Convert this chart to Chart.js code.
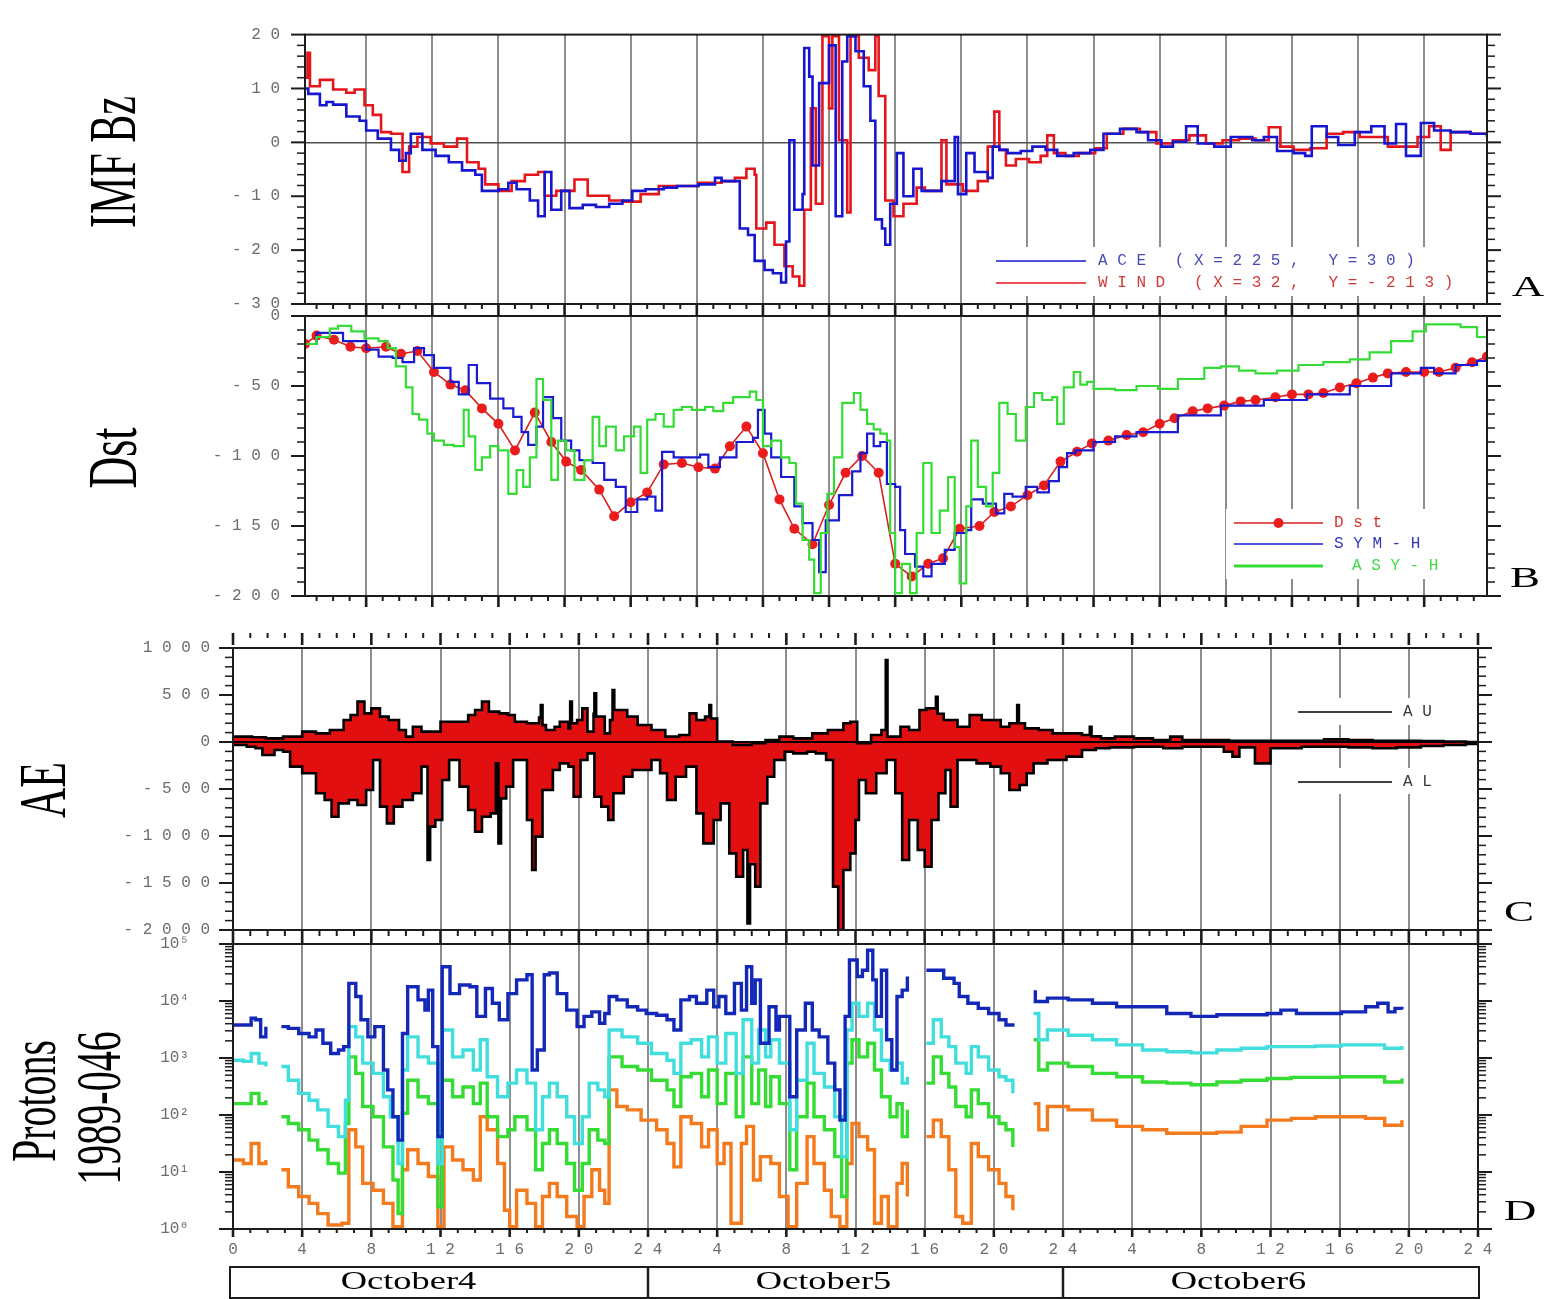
<!DOCTYPE html>
<html>
<head>
<meta charset="utf-8">
<title>IMF Bz, Dst, AE and protons, October 4-6</title>
<script src="https://cdn.jsdelivr.net/npm/chart.js@4.4.1/dist/chart.umd.min.js"></script>
<style>
  html, body { margin: 0; padding: 0; background: #fff; }
  #wrap { position: relative; width: 1548px; height: 1299px; overflow: hidden; background: #fff; }
  #wrap canvas { position: absolute; left: 0; top: 0; }
</style>
</head>
<body>
<div id="wrap">
  <canvas id="panelA" width="1548" height="1299"></canvas>
  <canvas id="panelB" width="1548" height="1299"></canvas>
  <canvas id="panelC" width="1548" height="1299"></canvas>
  <canvas id="panelD" width="1548" height="1299"></canvas>
</div>
<script>
// ---- axis ticks and labels ----
const hourTicks = [0, 4, 8, 12, 16, 20, 24, 28, 32, 36, 40, 44, 48, 52, 56, 60, 64, 68, 72];
const hourLabels = ['0', '4', '8', '12', '16', '20', '24', '4', '8', '12', '16', '20', '24', '4', '8', '12', '16', '20', '24'];
const dayLabels = ['October4', 'October5', 'October6'];

const bzTicks = [-30, -20, -10, 0, 10, 20];
const bzTickLabels = ['-30', '-20', '-10', '0', '10', '20'];
const dstTicks = [-200, -150, -100, -50, 0];
const dstTickLabels = ['-200', '-150', '-100', '-50', '0'];
const aeTicks = [-2000, -1500, -1000, -500, 0, 500, 1000];
const aeTickLabels = ['-2000', '-1500', '-1000', '-500', '0', '500', '1000'];
const protonTicks = [1, 10, 100, 1000, 10000, 100000];
const protonTickLabels = ['10⁰', '10¹', '10²', '10³', '10⁴', '10⁵'];

// ---- panel A: IMF Bz (nT), [hour, value] ----
const aceBz = [[0.3,10],[0.5,9],[1.2,6.9],[1.6,7.5],[2.0,7],[2.8,4.8],[3.6,4],[4.0,2.2],[4.7,0.7],[5.5,-1.4],[6.0,-3.4],[6.4,-2],[6.7,1.6],[7.4,-1.4],[8.2,-2.5],[9.0,-3.7],[9.8,-5.2],[10.6,-6],[11.0,-9],[12.0,-8.7],[12.6,-7.5],[13.1,-8.7],[13.9,-10.8],[14.4,-13.7],[14.8,-5.5],[15.2,-12.5],[15.8,-9],[16.3,-12.2],[17.1,-11.6],[17.9,-12],[18.7,-11.4],[19.5,-10.8],[20.1,-9],[20.9,-8.7],[22.0,-8.4],[22.8,-8.1],[24.1,-7.8],[25.1,-6.6],[25.5,-7.2],[26.4,-7.2],[26.6,-16],[27.1,-17.2],[27.5,-22],[28.1,-23.7],[28.6,-24.3],[29.1,-26],[29.4,-18.4],[29.6,0.4],[29.9,-12.5],[30.4,-9.6],[30.5,17.5],[30.8,12.2],[31.0,-4.3],[31.4,11],[32.0,18],[32.4,-13.7],[32.8,15],[33.1,19.7],[33.6,16.9],[34.1,10.4],[34.5,4],[34.8,-14.3],[35.2,-16],[35.4,-19],[35.7,-11.4],[36.1,-2],[36.5,-10],[37.1,-4.9],[37.6,-9],[38.3,-9],[38.8,-7.2],[39.6,1],[39.8,-9.6],[40.3,-2],[40.8,-5.5],[41.6,-6.6],[41.9,-0.8],[42.3,-1.4],[42.8,-2],[43.6,-1.6],[44.3,-0.8],[45.1,-1.4],[45.8,-2.5],[46.8,-2],[47.8,-1.4],[48.6,1.6],[49.6,2.5],[50.6,1.9],[51.3,0.4],[52.1,-0.8],[52.8,0.1],[53.6,3],[54.3,-0.2],[55.3,-0.8],[56.3,1],[57.6,0.4],[58.3,1],[59.1,-1.6],[60.1,-2],[60.8,-2.5],[61.2,3],[62.1,1],[62.8,-0.5],[63.8,1.9],[64.8,3],[65.6,-0.2],[66.3,3.4],[66.9,-2.5],[67.8,3.6],[68.6,2.2],[69.6,1.9],[70.8,1.6],[71.8,1]];
const windBz = [[0.3,12],[0.45,16.6],[0.6,10.4],[1.2,11.6],[2.0,9.8],[2.8,9.2],[3.3,9.8],[3.9,6.9],[4.4,5.1],[4.9,1.9],[5.5,1.6],[6.2,-5.5],[6.6,-0.8],[7.1,1],[7.9,-0.2],[8.7,-0.8],[9.5,0.7],[10.1,-3.7],[10.8,-4.9],[11.2,-7.8],[12.0,-9],[12.8,-7.2],[13.6,-6],[14.4,-5.5],[14.8,-9.9],[15.5,-9],[16.6,-6.9],[17.4,-9.9],[18.7,-10.8],[19.5,-11],[20.6,-9.6],[21.7,-8.1],[22.8,-8.1],[24.1,-7.5],[25.5,-7.2],[26.3,-6.6],[27.0,-4.9],[27.5,-6],[27.6,-16],[28.2,-14.9],[28.7,-19],[29.3,-23],[29.8,-24.9],[30.2,-26.6],[30.5,-12.5],[30.9,6.3],[31.2,-11.4],[31.6,19.7],[32.0,6.3],[32.2,19.7],[32.6,0.4],[33.1,-13],[33.3,19.7],[33.8,15.7],[34.4,13.4],[34.8,19.7],[35.0,8.6],[35.4,-10.8],[35.9,-13.7],[36.5,-11.4],[37.3,-8.4],[37.8,-9],[38.8,0.4],[39.1,-7.8],[40.1,-9],[41.0,-7.2],[41.6,-0.8],[42.0,5.7],[42.3,-1.4],[42.7,-4.3],[43.3,-3.1],[44.1,-3.7],[44.8,-2.5],[45.2,1.3],[45.6,-2],[46.3,-2.5],[47.1,-2],[48.1,-1.1],[48.8,1.6],[49.8,2.5],[50.8,1.9],[51.8,-0.2],[52.8,0.4],[53.8,1.3],[54.8,-0.2],[55.8,0.4],[56.8,0.7],[57.8,0.4],[58.6,2.8],[59.3,-0.8],[60.1,-1.4],[61.1,-1.1],[62.1,1.6],[63.1,1.9],[64.1,1],[65.1,1],[65.8,-0.8],[66.6,-0.8],[67.6,1],[68.3,3],[69.0,-1.4],[69.6,1.9],[70.8,1.6],[71.8,1.3]];

// ---- panel B: Dst, SYM-H, ASY-H (nT) ----
const dstHourly = [[0.3,-20],[1.0,-14],[2.05,-17],[3.05,-22],[4.0,-23],[5.2,-22],[6.1,-27],[7.1,-25],[8.1,-40],[9.1,-49],[10.0,-53],[11.0,-66],[12.0,-77],[13.0,-96],[14.2,-69],[15.2,-90],[16.1,-104],[17.0,-110],[18.1,-124],[19.0,-143],[20.0,-133],[21.0,-126],[22.0,-106],[23.1,-105],[24.1,-108],[25.1,-109],[26.0,-93],[27.0,-79],[28.0,-98],[29.0,-131],[29.9,-152],[31.0,-163],[32.0,-135],[33.0,-112],[34.0,-100],[35.0,-112],[36.0,-177],[37.0,-186],[38.0,-177],[38.9,-173],[39.9,-152],[41.1,-150],[42.0,-140],[43.0,-136],[44.0,-128],[45.0,-121],[46.0,-104],[47.0,-97],[47.9,-91],[48.9,-89],[50.0,-85],[51.0,-83],[52.0,-77],[52.9,-73],[54.0,-68],[54.9,-66],[55.9,-64],[56.9,-61],[57.8,-60],[59.0,-58],[60.0,-56],[61.0,-56],[61.9,-55],[62.9,-51],[63.9,-48],[64.9,-44],[65.8,-41],[66.9,-40],[68.0,-40],[68.9,-40],[69.9,-37],[70.9,-33],[71.8,-29]];
const symH = [[0.3,-20],[1.0,-12],[1.8,-12],[2.6,-18],[4.0,-24],[4.75,-29],[5.6,-30],[6.2,-33],[6.9,-23],[7.5,-28],[8.1,-37],[9.1,-47],[9.6,-56],[10.2,-35],[10.7,-48],[11.5,-59],[12.3,-66],[12.9,-72],[13.4,-83],[13.8,-92],[14.3,-79],[14.7,-58],[15.3,-73],[15.8,-89],[16.4,-96],[16.9,-103],[17.7,-105],[18.4,-117],[19.1,-122],[19.7,-140],[20.4,-131],[21.0,-129],[21.5,-139],[21.9,-97],[22.6,-101],[23.1,-101],[24.2,-99],[24.7,-108],[25.4,-101],[26.4,-90],[27.4,-87],[27.7,-67],[28.1,-84],[28.5,-101],[29.1,-115],[29.9,-136],[30.4,-148],[31.0,-160],[31.4,-183],[31.8,-146],[32.6,-128],[33.4,-111],[33.9,-98],[34.3,-84],[34.7,-93],[35.1,-90],[35.5,-120],[36.0,-122],[36.3,-153],[36.6,-170],[37.2,-179],[37.7,-186],[38.2,-177],[39.0,-167],[39.6,-155],[40.3,-153],[40.6,-131],[41.3,-134],[42.1,-141],[42.6,-127],[43.1,-129],[43.9,-122],[44.6,-126],[45.3,-118],[45.9,-108],[46.4,-98],[46.9,-96],[48.0,-90],[49.3,-86],[50.6,-83],[53.1,-71],[55.7,-64],[58.3,-60],[60.9,-56],[63.5,-50],[66.0,-41],[67.8,-37],[68.6,-41],[69.9,-35],[71.2,-32],[71.8,-29]];
const asyH = [[0.3,-20],[1.0,-15],[1.8,-9],[2.3,-7],[3.1,-11],[3.9,-16],[4.75,-18],[5.3,-23],[5.8,-36],[6.4,-51],[6.8,-70],[7.2,-74],[7.7,-84],[8.1,-89],[8.7,-92],[9.3,-93],[9.9,-67],[10.2,-86],[10.6,-110],[11.0,-101],[11.5,-93],[12.0,-96],[12.6,-127],[13.1,-110],[13.5,-122],[13.9,-101],[14.3,-45],[14.7,-60],[15.2,-117],[15.6,-89],[16.1,-96],[16.6,-117],[17.2,-103],[17.7,-72],[18.1,-93],[18.5,-79],[19.1,-96],[19.6,-86],[20.2,-79],[20.6,-112],[21.0,-74],[21.5,-70],[22.0,-79],[22.6,-67],[23.1,-65],[23.7,-67],[24.5,-65],[25.0,-68],[25.6,-62],[26.2,-58],[27.2,-54],[27.6,-60],[28.0,-93],[28.5,-89],[29.1,-101],[29.6,-105],[30.0,-134],[30.4,-160],[30.8,-174],[31.1,-198],[31.5,-155],[31.9,-127],[32.3,-101],[32.8,-62],[33.5,-55],[33.9,-67],[34.3,-77],[34.7,-81],[35.1,-84],[35.5,-89],[35.7,-155],[36.0,-198],[36.4,-177],[36.9,-198],[37.3,-155],[37.7,-105],[38.2,-155],[38.7,-139],[39.2,-115],[39.6,-165],[39.9,-191],[40.3,-136],[40.6,-89],[41.0,-122],[41.5,-136],[41.9,-112],[42.3,-62],[42.8,-70],[43.3,-89],[43.9,-65],[44.4,-55],[44.9,-60],[45.5,-58],[45.8,-77],[46.2,-51],[46.8,-40],[47.2,-49],[47.6,-47],[48.0,-52],[49.3,-53],[50.6,-50],[51.9,-52],[53.1,-45],[54.7,-37],[55.7,-36],[56.8,-39],[57.8,-41],[59.1,-39],[60.4,-35],[61.9,-33],[63.5,-31],[64.7,-26],[66.0,-18],[67.3,-11],[68.1,-6],[69.1,-6],[70.2,-8],[71.2,-15],[71.8,-22]];

// ---- panel C: AU / AL (nT) ----
const auIndex = [[0,57],[1.1,50],[1.9,39],[2.9,57],[4.0,110],[4.8,92],[5.6,128],[6.4,234],[6.8,287],[7.2,429],[7.6,305],[8.0,358],[8.5,270],[9.0,234],[9.6,128],[10.0,57],[10.4,163],[10.9,110],[12.0,216],[12.8,216],[13.6,287],[14.0,340],[14.4,429],[14.8,323],[15.4,305],[15.9,287],[16.3,216],[17.0,199],[17.7,260],[17.8,394],[17.9,180],[18.1,128],[18.6,163],[18.9,216],[19.4,145],[19.5,429],[19.6,200],[19.9,234],[20.2,358],[20.5,110],[20.85,300],[20.9,518],[21.0,270],[21.5,92],[21.8,234],[21.95,553],[22.05,340],[22.3,340],[22.8,270],[23.4,181],[24.2,128],[25.0,57],[25.8,74],[26.4,305],[26.8,234],[27.3,270],[27.55,394],[27.65,250],[28.0,4],[28.9,-32],[30.0,-14],[30.8,21],[31.6,57],[32.4,39],[33.5,92],[34.4,128],[35.3,199],[35.7,216],[36.1,-14],[36.9,74],[37.5,128],[37.75,873],[37.85,57],[38.6,163],[39.1,128],[39.7,340],[40.1,358],[40.65,482],[40.75,300],[41.1,234],[41.9,163],[42.6,287],[43.3,234],[43.8,234],[44.4,163],[44.9,199],[45.35,394],[45.45,200],[45.8,145],[46.6,128],[47.4,92],[48.2,92],[49.1,74],[49.55,163],[49.65,60],[50.2,39],[51.0,57],[52.1,39],[53.2,21],[54.2,57],[54.9,21],[56.2,21],[57.6,14],[59.0,14],[60.4,14],[61.8,14],[63.1,28],[64.5,21],[65.9,14],[67.3,14],[68.7,11],[70.0,4],[71.3,0],[72,0]];
const alIndex = [[0,-32],[0.8,-50],[1.3,-67],[1.7,-138],[2.4,-85],[2.9,-103],[3.3,-262],[4.0,-333],[4.8,-546],[5.3,-617],[5.7,-795],[6.1,-653],[6.7,-617],[7.2,-670],[7.7,-511],[8.1,-192],[8.5,-688],[8.9,-866],[9.3,-688],[9.8,-617],[10.4,-546],[10.9,-262],[11.25,-1256],[11.4,-900],[11.7,-830],[12.1,-404],[12.5,-192],[13.1,-475],[13.6,-724],[14.0,-954],[14.4,-795],[14.9,-759],[15.2,-227],[15.35,-1078],[15.5,-600],[15.8,-475],[16.2,-192],[16.6,-192],[17.0,-830],[17.3,-1362],[17.5,-1007],[17.9,-511],[18.5,-298],[18.9,-227],[19.4,-262],[19.7,-582],[20.1,-192],[20.5,-121],[20.9,-582],[21.3,-688],[21.7,-830],[22.0,-546],[22.6,-369],[23.1,-298],[24.2,-192],[24.7,-333],[25.1,-617],[25.6,-369],[26.2,-262],[26.8,-759],[27.2,-1078],[27.8,-830],[28.2,-653],[28.7,-1185],[29.1,-1433],[29.5,-1149],[29.75,-1930],[29.9,-1300],[30.2,-1539],[30.5,-653],[30.9,-369],[31.3,-192],[31.9,-103],[32.4,-121],[33.2,-103],[33.7,-121],[34.3,-192],[34.7,-1539],[35.0,-2000],[35.3,-1362],[35.7,-1185],[36.0,-830],[36.2,-404],[36.6,-546],[37.2,-333],[37.8,-192],[38.3,-546],[38.7,-1256],[39.1,-830],[39.6,-1149],[40.0,-1327],[40.4,-830],[40.8,-546],[41.2,-298],[41.5,-688],[41.9,-192],[42.4,-192],[43.0,-227],[43.8,-262],[44.4,-333],[44.9,-511],[45.5,-458],[45.9,-333],[46.3,-227],[47.1,-192],[48.2,-156],[49.1,-85],[49.9,-67],[50.7,-57],[52.1,-50],[53.8,-67],[54.9,-50],[56.2,-50],[57.3,-103],[57.8,-156],[58.2,-57],[59.1,-227],[59.6,-227],[60.0,-67],[61.8,-50],[63.1,-50],[64.5,-57],[65.9,-67],[67.3,-57],[68.7,-43],[70.0,-32],[71.3,-21],[72,-21]];

// ---- panel D: 1989-046 proton channels, [hour, log10 flux], null = no data ----
const protonCh1 = [[0.0,3.58],[0.6,3.58],[1.05,3.70],[1.3,3.67],[1.6,3.37],[1.9,3.55],[2.3,null],[2.8,3.55],[3.2,3.52],[3.8,3.43],[4.4,3.37],[4.8,3.49],[5.2,3.26],[5.65,3.08],[6.1,3.14],[6.4,3.20],[6.7,4.31],[7.1,4.08],[7.4,3.67],[7.8,3.37],[8.2,3.55],[8.7,2.79],[8.95,2.44],[9.25,1.97],[9.55,1.56],[9.8,3.43],[10.1,4.25],[10.7,4.02],[11.1,3.84],[11.3,4.19],[11.55,3.20],[11.85,1.62],[12.1,4.60],[12.55,4.13],[13.1,4.28],[13.7,4.25],[14.1,3.73],[14.6,4.22],[15.0,3.96],[15.4,3.67],[15.9,4.13],[16.4,4.37],[17.0,4.46],[17.3,2.79],[17.6,3.14],[18.0,4.46],[18.3,4.49],[18.75,4.13],[19.3,3.84],[19.9,3.55],[20.3,3.73],[20.75,3.81],[21.2,3.61],[21.5,3.78],[21.75,4.08],[22.2,4.02],[22.8,3.90],[23.4,3.84],[23.9,3.78],[24.5,3.75],[25.1,3.67],[25.5,3.49],[25.9,4.02],[26.4,4.08],[26.8,3.96],[27.4,4.19],[27.8,3.90],[28.1,4.08],[28.5,3.78],[29.0,4.31],[29.4,3.84],[29.7,4.60],[30.0,3.96],[30.2,4.37],[30.5,3.26],[31.0,3.90],[31.4,3.49],[31.6,3.73],[32.2,2.32],[32.6,3.49],[33.1,3.96],[33.5,3.49],[33.9,3.37],[34.4,2.91],[34.8,2.44],[35.1,1.91],[35.4,3.73],[35.65,4.72],[36.1,4.43],[36.4,4.54],[36.7,4.89],[37.0,4.37],[37.2,3.73],[37.5,4.54],[37.8,3.32],[38.1,2.79],[38.4,4.08],[38.7,4.19],[39.0,4.43],[39.5,null],[40.1,4.54],[40.5,4.54],[41.1,4.40],[41.7,4.31],[42.0,4.08],[42.5,3.96],[43.1,3.87],[43.7,3.78],[44.3,3.67],[44.7,3.58],[45.1,3.55],[45.7,null],[46.3,4.16],[46.4,3.99],[47.1,4.05],[48.3,4.02],[49.7,3.96],[51.1,3.90],[52.6,3.90],[54.0,3.78],[55.4,3.73],[56.9,3.76],[58.3,3.76],[59.8,3.78],[60.6,3.84],[61.5,3.78],[62.6,3.78],[64.1,3.81],[65.5,3.90],[66.2,3.96],[66.8,3.81],[67.2,3.87],[67.6,3.85]];
const protonCh2 = [[0.0,2.96],[0.6,2.94],[1.05,3.08],[1.5,2.91],[1.9,2.85],[2.3,null],[2.8,2.85],[3.2,2.61],[3.8,2.38],[4.4,2.26],[4.9,2.09],[5.5,1.80],[6.1,1.62],[6.5,2.26],[6.7,3.55],[7.1,3.37],[7.5,2.91],[8.1,2.73],[8.7,2.32],[9.1,1.97],[9.55,1.15],[9.8,2.79],[10.1,3.37],[10.7,3.02],[11.3,2.91],[11.85,1.15],[12.1,3.49],[12.7,3.02],[13.3,3.14],[13.9,2.79],[14.3,3.32],[14.7,2.67],[15.3,2.32],[15.9,2.56],[16.4,2.79],[17.0,2.56],[17.5,1.74],[17.9,2.32],[18.3,2.56],[18.75,2.32],[19.3,1.97],[19.75,1.50],[20.2,1.97],[20.6,2.56],[21.1,2.44],[21.5,2.32],[21.75,3.49],[22.5,3.37],[23.4,3.26],[24.2,3.08],[25.1,2.96],[25.5,2.73],[25.9,3.26],[26.5,3.32],[27.1,3.02],[27.5,3.37],[28.0,2.91],[28.5,3.43],[29.1,2.73],[29.5,3.67],[30.0,2.91],[30.4,3.49],[30.8,3.02],[31.1,3.32],[31.6,2.91],[32.2,1.74],[32.6,2.61],[33.2,3.26],[33.6,2.73],[34.2,2.49],[34.8,1.97],[35.2,1.27],[35.5,3.49],[35.8,3.96],[36.2,3.73],[36.7,3.96],[37.1,3.49],[37.5,2.96],[38.0,2.79],[38.4,2.91],[38.7,2.56],[39.0,2.67],[39.5,null],[40.1,3.26],[40.5,3.67],[40.96,3.37],[41.4,3.20],[41.8,2.91],[42.4,2.73],[42.7,3.20],[43.1,3.02],[43.7,2.79],[44.3,2.67],[44.7,2.61],[45.1,2.38],[45.7,null],[46.3,3.78],[46.6,3.32],[47.1,3.49],[48.3,3.40],[49.7,3.32],[51.1,3.23],[52.6,3.14],[54.0,3.11],[55.4,3.09],[56.9,3.14],[58.3,3.17],[59.8,3.20],[61.2,3.20],[62.6,3.21],[64.1,3.23],[65.5,3.23],[66.6,3.17],[67.6,3.21]];
const protonCh3 = [[0.0,2.20],[0.6,2.20],[1.05,2.38],[1.5,2.20],[1.9,2.26],[2.3,null],[2.8,1.97],[3.2,1.85],[3.8,1.74],[4.4,1.56],[4.9,1.39],[5.5,1.15],[6.1,0.98],[6.5,1.85],[6.7,3.02],[7.1,2.73],[7.5,2.15],[8.1,1.97],[8.7,1.44],[9.25,0.86],[9.55,0.27],[9.8,2.03],[10.1,2.61],[10.7,2.32],[11.3,2.20],[11.85,0.39],[12.1,2.61],[12.7,2.32],[13.3,2.49],[13.9,2.20],[14.3,2.56],[14.7,1.97],[15.3,1.62],[15.9,1.74],[16.3,1.97],[17.0,1.74],[17.5,1.04],[17.9,1.50],[18.3,1.74],[18.75,1.50],[19.3,1.15],[19.75,0.68],[20.2,1.15],[20.6,1.74],[21.1,1.56],[21.5,1.50],[21.75,3.02],[22.5,2.85],[23.4,2.79],[24.2,2.61],[25.1,2.44],[25.5,2.15],[25.9,2.67],[26.5,2.73],[27.1,2.32],[27.5,2.79],[28.0,2.20],[28.5,2.73],[29.1,1.97],[29.5,3.02],[30.0,2.20],[30.4,2.79],[30.8,2.15],[31.1,2.67],[31.6,2.20],[32.2,1.04],[32.6,1.97],[33.2,2.56],[33.6,1.97],[34.2,1.74],[34.8,1.27],[35.2,0.57],[35.5,2.91],[35.8,3.32],[36.2,3.02],[36.7,3.26],[37.1,2.79],[37.5,2.32],[38.0,1.97],[38.4,2.20],[38.7,1.62],[39.0,2.09],[39.5,null],[40.1,2.56],[40.5,3.02],[40.96,2.73],[41.4,2.49],[41.8,2.15],[42.4,1.97],[42.7,2.44],[43.1,2.20],[43.7,1.97],[44.3,1.85],[44.7,1.74],[45.1,1.44],[45.7,null],[46.3,3.32],[46.6,2.79],[47.1,2.91],[48.3,2.85],[49.7,2.73],[51.1,2.67],[52.6,2.58],[54.0,2.56],[55.4,2.53],[56.9,2.58],[58.3,2.61],[59.8,2.64],[61.2,2.66],[62.6,2.66],[64.1,2.67],[65.5,2.67],[66.6,2.58],[67.6,2.64]];
const protonCh4 = [[0.0,1.21],[0.6,1.15],[1.05,1.50],[1.5,1.15],[1.9,1.21],[2.3,null],[2.8,1.04],[3.2,0.74],[3.8,0.57],[4.4,0.45],[4.9,0.27],[5.5,0.07],[6.3,0.10],[6.7,1.74],[7.1,1.44],[7.5,0.80],[8.1,0.68],[8.7,0.45],[9.25,0.04],[9.8,1.04],[10.1,1.39],[10.7,1.15],[11.3,0.92],[11.85,0.04],[12.2,1.44],[12.7,1.21],[13.3,1.04],[13.9,0.86],[14.3,1.97],[14.7,1.74],[15.3,1.15],[15.7,0.33],[16.0,0.04],[16.4,0.68],[17.0,0.45],[17.5,0.04],[17.9,0.57],[18.3,0.80],[18.75,0.57],[19.3,0.22],[19.9,0.04],[20.3,0.57],[20.75,1.04],[21.2,0.68],[21.5,0.45],[21.75,2.44],[22.2,2.15],[22.8,2.09],[23.6,1.91],[24.5,1.74],[25.1,1.50],[25.5,1.09],[25.9,1.97],[26.5,1.85],[27.1,1.44],[27.5,1.74],[28.0,1.15],[28.4,1.50],[28.8,0.10],[29.4,1.50],[29.7,1.80],[30.1,0.86],[30.5,1.27],[31.1,1.15],[31.6,0.57],[32.1,0.04],[32.6,0.80],[33.2,1.62],[33.6,1.15],[34.2,0.68],[34.6,0.22],[35.1,0.04],[35.5,1.15],[35.8,1.85],[36.2,1.62],[36.7,1.39],[37.1,0.10],[37.5,0.57],[37.9,0.04],[38.4,0.80],[38.7,1.15],[39.0,0.57],[39.5,null],[40.1,1.62],[40.5,1.91],[40.96,1.62],[41.4,1.04],[41.8,0.22],[42.2,0.10],[42.7,1.50],[43.1,1.27],[43.7,1.04],[44.3,0.80],[44.7,0.57],[45.1,0.33],[45.7,null],[46.3,2.20],[46.6,1.74],[47.1,2.15],[48.3,2.09],[49.7,1.91],[51.1,1.80],[52.6,1.74],[54.0,1.68],[55.4,1.68],[56.9,1.70],[58.3,1.80],[59.8,1.91],[61.2,1.94],[62.6,1.97],[64.1,1.97],[65.5,1.94],[66.6,1.82],[67.6,1.91]];

// ---- page layout ----
const PAGE_W = 1548, PAGE_H = 1299;
const AXIS_W = 120;
const MONO = '"Liberation Mono", "DejaVu Sans Mono", monospace';
const SERIF = '"Liberation Serif", "DejaVu Serif", "Times New Roman", serif';
const TICK_COLOR = '#6c6c6c';
const GRID_COLOR = '#8e8e8e';
const FRAME_COLOR = '#1c1c1c';

// xh: height kept for the hour labels under the axis
const panelBox = {
  A: { l: 305, r: 1487, t: 24, b: 304, xh: 0 },
  B: { l: 305, r: 1487, t: 316, b: 596, xh: 0 },
  C: { l: 233, r: 1478, t: 648, b: 930, xh: 0 },
  D: { l: 233, r: 1478, t: 944, b: 1229, xh: 34 }
};

const spaced = s => Array.from(s).join(' ');
const toPoints = rows => rows.map(([x, y]) => ({ x, y }));
const toFlux = rows => rows.map(([x, e]) => ({ x, y: e === null ? null : Math.pow(10, e) }));

function strokeLine(ctx, x1, y1, x2, y2) {
  ctx.beginPath();
  ctx.moveTo(x1, y1);
  ctx.lineTo(x2, y2);
  ctx.stroke();
}

// serif text stretched across its glyph height, the way the plot was printed
function stretchedText(ctx, text, cx, cy, size, stretch, rotated) {
  ctx.save();
  ctx.translate(cx, cy);
  if (rotated) {
    ctx.rotate(-Math.PI / 2);
    ctx.scale(1, stretch);
  } else {
    ctx.scale(stretch, 1);
  }
  ctx.font = size + 'px ' + SERIF;
  ctx.fillStyle = '#000';
  ctx.textAlign = 'center';
  ctx.textBaseline = 'middle';
  ctx.fillText(text, 0, 0);
  ctx.restore();
}

function yTickMarks(scale, cfg) {
  const out = [];
  if (cfg.log) {
    for (let d = 1; d < scale.max; d *= 10) {
      for (let k = 1; k <= 9; k++) out.push({ v: k * d, major: k === 1 });
    }
    out.push({ v: scale.max, major: true });
  } else {
    const n = Math.round((scale.max - scale.min) / cfg.yMinor);
    for (let i = 0; i <= n; i++) {
      const v = scale.min + i * cfg.yMinor;
      const q = v / cfg.yMajor;
      out.push({ v, major: Math.abs(q - Math.round(q)) < 1e-6 });
    }
  }
  return out;
}

// frame, outward tick marks, tick bands, legend, titles
function makeDecor(name, cfg) {
  return {
    id: 'decor' + name,
    afterDatasetsDraw(chart) {
      const { ctx, chartArea: a, scales: { x, y } } = chart;
      ctx.save();

      if (cfg.zeroLine) {
        const py = y.getPixelForValue(0);
        ctx.strokeStyle = cfg.zeroLine;
        ctx.lineWidth = 2;
        strokeLine(ctx, a.left, py, a.right, py);
      }

      ctx.strokeStyle = FRAME_COLOR;
      ctx.lineWidth = 2;
      ctx.strokeRect(a.left, a.top, a.right - a.left, a.bottom - a.top);

      for (const t of yTickMarks(y, cfg)) {
        const py = y.getPixelForValue(t.v);
        const len = t.major ? 14 : 8;
        ctx.lineWidth = t.major ? 2 : 1.5;
        strokeLine(ctx, a.left - len, py, a.left, py);
        strokeLine(ctx, a.right, py, a.right + len, py);
      }

      for (const band of cfg.bands) {
        ctx.strokeStyle = FRAME_COLOR;
        for (let h = Math.ceil(x.min); h <= Math.floor(x.max); h++) {
          const px = x.getPixelForValue(h);
          const major = h % 4 === 0;
          ctx.lineWidth = major ? 2.6 : 2;
          strokeLine(ctx, px, band.y, px, band.y + (major ? band.major : band.minor));
        }
      }

      if (cfg.legend) {
        const lg = cfg.legend;
        ctx.fillStyle = '#fff';
        for (const b of lg.boxes) ctx.fillRect(b[0], b[1], b[2], b[3]);
        ctx.font = '16px ' + MONO;
        ctx.textAlign = 'left';
        ctx.textBaseline = 'middle';
        for (const it of lg.items) {
          const ds = chart.data.datasets[it.ds];
          ctx.strokeStyle = ds.borderColor;
          ctx.lineWidth = it.lw;
          strokeLine(ctx, lg.x0, it.y, lg.x1, it.y);
          if (it.marker) {
            ctx.fillStyle = ds.pointBackgroundColor;
            ctx.beginPath();
            ctx.arc((lg.x0 + lg.x1) / 2, it.y, 5, 0, Math.PI * 2);
            ctx.fill();
          }
          ctx.fillStyle = it.color;
          ctx.fillText(spaced(ds.label), it.tx, it.y);
        }
      }
      ctx.restore();
    },
    afterDraw(chart) {
      const { ctx } = chart;
      for (const t of cfg.titles) stretchedText(ctx, t.text, t.cx, t.cy, t.size, 1.6, true);
      stretchedText(ctx, cfg.letter.text, cfg.letter.cx, cfg.letter.cy, 30, 1.5, false);

      if (cfg.days) {
        const x = chart.scales.x;
        const x0 = x.getPixelForValue(0) - 3, x1 = x.getPixelForValue(72) + 1;
        ctx.save();
        ctx.strokeStyle = FRAME_COLOR;
        ctx.lineWidth = 2;
        ctx.strokeRect(x0, cfg.days.top, x1 - x0, cfg.days.bottom - cfg.days.top);
        ctx.lineWidth = 2.5;
        [24, 48].forEach(h => {
          const px = x.getPixelForValue(h);
          strokeLine(ctx, px, cfg.days.top, px, cfg.days.bottom);
        });
        ctx.restore();
        dayLabels.forEach((lbl, i) => {
          const cx = x.getPixelForValue(12 + 24 * i) - 32;
          stretchedText(ctx, lbl, cx, (cfg.days.top + cfg.days.bottom) / 2, 26, 1.4, false);
        });
      }
    }
  };
}

function hourAxis(min, max, labelHeight) {
  return {
    type: 'linear', min, max,
    afterBuildTicks: s => {
      s.ticks = hourTicks.filter(v => v >= s.min && v <= s.max).map(v => ({ value: v }));
    },
    afterFit: s => { s.height = labelHeight; },
    grid: { color: GRID_COLOR, lineWidth: 2, drawTicks: false },
    border: { display: false },
    ticks: {
      display: labelHeight > 0,
      autoSkip: false, maxRotation: 0, padding: 11,
      color: TICK_COLOR, font: { family: MONO, size: 16 },
      callback: v => spaced(hourLabels[hourTicks.indexOf(v)] || '')
    }
  };
}

function valueAxis(opts) {
  return Object.assign({
    afterBuildTicks: s => { s.ticks = opts.tickValues.map(v => ({ value: v })); },
    afterFit: s => { s.width = AXIS_W; },
    border: { display: false },
    ticks: {
      padding: opts.padding, color: TICK_COLOR, font: { family: MONO, size: 16 },
      callback: v => opts.spacedLabels
        ? spaced(opts.labels[opts.tickValues.indexOf(v)])
        : opts.labels[opts.tickValues.indexOf(v)]
    }
  }, opts.scale);
}

function makePanel(canvasId, box, datasets, scales, decor) {
  return new Chart(document.getElementById(canvasId), {
    type: 'line',
    data: { datasets },
    options: {
      responsive: false,
      animation: false,
      devicePixelRatio: 1,
      layout: { padding: { left: box.l - AXIS_W, right: PAGE_W - box.r, top: box.t, bottom: PAGE_H - box.b - box.xh } },
      plugins: { legend: { display: false }, tooltip: { enabled: false } },
      elements: { point: { radius: 0 }, line: { tension: 0 } },
      scales
    },
    plugins: [decor]
  });
}

// ---- A: IMF Bz ----
makePanel('panelA', panelBox.A, [
  { label: 'ACE (X=225, Y=30)', data: toPoints(aceBz), borderColor: '#1616d0', borderWidth: 2.6, stepped: true },
  { label: 'WIND (X=32, Y=-213)', data: toPoints(windBz), borderColor: '#e4151b', borderWidth: 2.6, stepped: true }
], {
  x: hourAxis(0.3, 71.8, panelBox.A.xh),
  y: valueAxis({
    tickValues: bzTicks, labels: bzTickLabels, spacedLabels: true, padding: 25,
    scale: {
      type: 'linear', min: -30, max: 20,
      grid: { drawTicks: false, lineWidth: 1.6, color: c => (c.tick && c.tick.value === 0 ? '#505050' : 'rgba(0,0,0,0)') }
    }
  })
}, makeDecor('A', {
  yMinor: 2, yMajor: 10,
  bands: [{ y: 304, major: 12, minor: 5 }],
  legend: {
    x0: 996, x1: 1086,
    boxes: [[986, 247, 484, 49]],
    items: [
      { ds: 0, y: 261, lw: 1.5, tx: 1098, color: '#4a4ab6' },
      { ds: 1, y: 283, lw: 1.5, tx: 1098, color: '#cf3a3a' }
    ]
  },
  titles: [{ text: 'IMF Bz', cx: 117, cy: 162, size: 42 }],
  letter: { text: 'A', cx: 1528, cy: 288 }
}));

// ---- B: Dst / SYM-H / ASY-H ----
makePanel('panelB', panelBox.B, [
  { label: 'ASY-H', data: toPoints(asyH), borderColor: '#36dc36', borderWidth: 2.2, stepped: true },
  { label: 'SYM-H', data: toPoints(symH), borderColor: '#1a1ad0', borderWidth: 2.2, stepped: true },
  { label: 'Dst', data: toPoints(dstHourly), borderColor: '#d82020', borderWidth: 1.6,
    pointRadius: 5, pointBackgroundColor: '#ea1c1c', pointBorderWidth: 0, pointStyle: 'circle' }
], {
  x: hourAxis(0.3, 71.8, panelBox.B.xh),
  y: valueAxis({
    tickValues: dstTicks, labels: dstTickLabels, spacedLabels: true, padding: 25,
    scale: { type: 'linear', min: -200, max: 0, grid: { display: false, drawTicks: false } }
  })
}, makeDecor('B', {
  yMinor: 10, yMajor: 50,
  bands: [{ y: 596, major: 11, minor: 5 }],
  legend: {
    x0: 1234, x1: 1323,
    boxes: [[1226, 509, 244, 70]],
    items: [
      { ds: 2, y: 523, lw: 1.5, tx: 1334, color: '#d43434', marker: true },
      { ds: 1, y: 544, lw: 1.5, tx: 1334, color: '#3535b8' },
      { ds: 0, y: 566, lw: 3, tx: 1352, color: '#46d846' }
    ]
  },
  titles: [{ text: 'Dst', cx: 117, cy: 458, size: 44 }],
  letter: { text: 'B', cx: 1525, cy: 579 }
}));

// ---- C: AU / AL ----
makePanel('panelC', panelBox.C, [
  { label: 'AU', data: toPoints(auIndex), borderColor: '#000', borderWidth: 2.6, stepped: true,
    fill: 'origin', backgroundColor: '#e10f0f' },
  { label: 'AL', data: toPoints(alIndex), borderColor: '#000', borderWidth: 2.6, stepped: true,
    fill: 'origin', backgroundColor: '#e10f0f' }
], {
  x: hourAxis(0, 72, panelBox.C.xh),
  y: valueAxis({
    tickValues: aeTicks, labels: aeTickLabels, spacedLabels: true, padding: 23,
    scale: { type: 'linear', min: -2000, max: 1000, grid: { display: false, drawTicks: false } }
  })
}, makeDecor('C', {
  yMinor: 100, yMajor: 500,
  zeroLine: '#000',
  bands: [{ y: 633, major: 12, minor: 5 }, { y: 930, major: 14, minor: 6 }],
  legend: {
    x0: 1298, x1: 1392,
    boxes: [[1290, 698, 160, 27], [1290, 768, 160, 26]],
    items: [
      { ds: 0, y: 712, lw: 1.5, tx: 1403, color: '#3a3a3a' },
      { ds: 1, y: 782, lw: 1.5, tx: 1403, color: '#3a3a3a' }
    ]
  },
  titles: [{ text: 'AE', cx: 47, cy: 790, size: 42 }],
  letter: { text: 'C', cx: 1519, cy: 913 }
}));

// ---- D: protons ----
makePanel('panelD', panelBox.D, [
  { label: 'Protons ch1', data: toFlux(protonCh1), borderColor: '#1428b8', borderWidth: 3.4, stepped: true },
  { label: 'Protons ch2', data: toFlux(protonCh2), borderColor: '#42dede', borderWidth: 3.4, stepped: true },
  { label: 'Protons ch3', data: toFlux(protonCh3), borderColor: '#34dc34', borderWidth: 3.4, stepped: true },
  { label: 'Protons ch4', data: toFlux(protonCh4), borderColor: '#f47a1e', borderWidth: 3.4, stepped: true }
], {
  x: hourAxis(0, 72, panelBox.D.xh),
  y: valueAxis({
    tickValues: protonTicks, labels: protonTickLabels, spacedLabels: false, padding: 44,
    scale: { type: 'logarithmic', min: 1, max: 100000, grid: { display: false, drawTicks: false } }
  })
}, makeDecor('D', {
  log: true,
  bands: [{ y: 1229, major: 8, minor: 4 }],
  titles: [
    { text: 'Protons', cx: 38, cy: 1101, size: 40 },
    { text: '1989-046', cx: 103, cy: 1108, size: 40 }
  ],
  letter: { text: 'D', cx: 1520, cy: 1212 },
  days: { top: 1267, bottom: 1298 }
}));
</script>
</body>
</html>
